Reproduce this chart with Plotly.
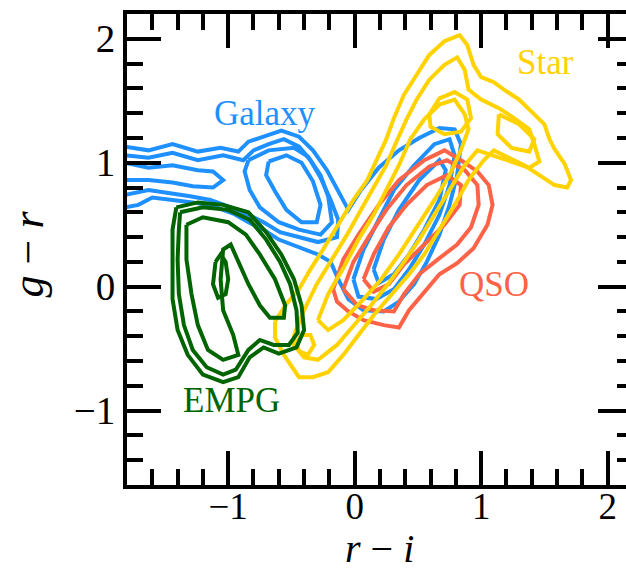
import plotly.graph_objects as go

# ---------------- data (r-i, g-r) contour vertices ----------------
# EMPG contours
EMPG_1_X = [-1.41, -1.24, -1.04, -0.84, -0.70, -0.58, -0.48, -0.42, -0.40, -0.46, -0.60, -0.72, -0.83, -0.92, -1.04, -1.20, -1.32, -1.40, -1.44, -1.44, -1.44, -1.41]
EMPG_1_Y = [0.64, 0.68, 0.66, 0.60, 0.44, 0.26, 0.06, -0.15, -0.35, -0.49, -0.54, -0.49, -0.57, -0.73, -0.77, -0.71, -0.55, -0.35, -0.10, 0.22, 0.46, 0.64]
EMPG_2_X = [-1.38, -1.20, -1.00, -0.83, -0.70, -0.59, -0.51, -0.46, -0.45, -0.52, -0.64, -0.75, -0.84, -0.94, -1.04, -1.17, -1.28, -1.35, -1.39, -1.40, -1.39, -1.38]
EMPG_2_Y = [0.60, 0.64, 0.62, 0.54, 0.38, 0.20, 0.02, -0.19, -0.37, -0.47, -0.47, -0.43, -0.51, -0.67, -0.71, -0.65, -0.51, -0.31, -0.06, 0.22, 0.46, 0.60]
EMPG_3_X = [-1.33, -1.20, -1.00, -0.86, -0.75, -0.63, -0.55, -0.56, -0.67, -0.75, -0.84, -0.92, -0.98, -1.04, -1.06, -1.04, -0.96, -0.92, -1.04, -1.16, -1.24, -1.29, -1.33, -1.33]
EMPG_3_Y = [0.50, 0.56, 0.52, 0.42, 0.26, 0.06, -0.15, -0.25, -0.25, -0.15, 0.02, 0.20, 0.34, 0.30, 0.06, -0.19, -0.39, -0.55, -0.59, -0.51, -0.31, -0.06, 0.22, 0.50]
EMPG_4_X = [-1.10, -1.06, -1.02, -1.00, -1.02, -1.08, -1.12, -1.10]
EMPG_4_Y = [0.20, 0.26, 0.20, 0.06, -0.06, -0.09, 0.02, 0.20]

# Galaxy contours
GAL_1_X = [-1.95, -1.82, -1.63, -1.44, -1.24, -1.06, -0.92, -0.84, -0.72, -0.58, -0.44, -0.33, -0.22, -0.13, -0.05, 0.05, 0.19, 0.35, 0.51, 0.67, 0.79, 0.84, 0.81, 0.75, 0.67, 0.57, 0.47, 0.35, 0.23, 0.07, -0.05, -0.13, -0.19, -0.29, -0.44, -0.60, -0.72, -0.84, -0.96, -1.12, -1.28, -1.44, -1.60, -1.71, -1.82, -1.95]
GAL_1_Y = [1.13, 1.13, 1.10, 1.15, 1.09, 1.12, 1.09, 1.17, 1.21, 1.26, 1.21, 1.10, 0.94, 0.77, 0.62, 0.78, 0.96, 1.10, 1.20, 1.28, 1.27, 1.15, 0.90, 0.66, 0.42, 0.20, 0.02, -0.12, -0.20, -0.19, -0.10, 0.06, 0.20, 0.26, 0.32, 0.38, 0.46, 0.52, 0.59, 0.65, 0.68, 0.70, 0.72, 0.66, 0.64, 0.64]
GAL_2_X = [-1.95, -1.82, -1.63, -1.44, -1.24, -1.04, -0.88, -0.80, -0.68, -0.56, -0.44, -0.35, -0.27, -0.19, -0.13, -0.14, -0.29, -0.44, -0.59, -0.72, -0.84, -0.98, -1.14, -1.30, -1.48, -1.63, -1.82, -1.95]
GAL_2_Y = [1.06, 1.06, 1.04, 1.08, 1.02, 1.06, 1.02, 1.10, 1.15, 1.19, 1.13, 1.02, 0.88, 0.70, 0.54, 0.40, 0.36, 0.40, 0.44, 0.52, 0.58, 0.64, 0.70, 0.73, 0.76, 0.78, 0.74, 0.74]
GAL_3_X = [-1.95, -1.82, -1.63, -1.44, -1.24, -1.12, -1.04, -1.12, -1.28, -1.44, -1.63, -1.82, -1.95]
GAL_3_Y = [0.98, 1.00, 0.96, 0.98, 0.94, 0.93, 0.86, 0.80, 0.81, 0.84, 0.86, 0.86, 0.86]
GAL_4_X = [-0.84, -0.68, -0.48, -0.37, -0.27, -0.21, -0.18, -0.27, -0.44, -0.60, -0.75, -0.83, -0.87, -0.84]
GAL_4_Y = [1.02, 1.10, 1.12, 1.05, 0.90, 0.73, 0.52, 0.42, 0.46, 0.52, 0.64, 0.78, 0.93, 1.02]
GAL_5_X = [-0.68, -0.54, -0.42, -0.33, -0.27, -0.30, -0.42, -0.54, -0.63, -0.70, -0.68]
GAL_5_Y = [1.01, 1.06, 1.00, 0.85, 0.66, 0.52, 0.52, 0.62, 0.77, 0.90, 1.01]
GAL_6_X = [-0.01, 0.07, 0.19, 0.31, 0.47, 0.63, 0.75, 0.79, 0.75, 0.67, 0.55, 0.43, 0.31, 0.17, 0.03, -0.01]
GAL_6_Y = [0.06, 0.30, 0.54, 0.78, 0.98, 1.15, 1.19, 1.06, 0.82, 0.58, 0.34, 0.14, -0.02, -0.10, -0.08, 0.06]
GAL_7_X = [0.15, 0.23, 0.35, 0.51, 0.67, 0.72, 0.67, 0.55, 0.43, 0.31, 0.19, 0.15]
GAL_7_Y = [0.14, 0.38, 0.62, 0.86, 1.02, 0.94, 0.70, 0.46, 0.26, 0.10, 0.03, 0.14]

# QSO contours
QSO_1_X = [-0.17, -0.09, 0.03, 0.19, 0.35, 0.55, 0.71, 0.84, 0.97, 1.06, 1.09, 1.05, 0.94, 0.81, 0.67, 0.55, 0.43, 0.35, 0.23, 0.07, -0.05, -0.14, -0.17]
QSO_1_Y = [-0.02, 0.22, 0.42, 0.66, 0.86, 1.02, 1.10, 1.02, 0.93, 0.82, 0.66, 0.50, 0.31, 0.19, 0.10, -0.04, -0.19, -0.33, -0.31, -0.27, -0.20, -0.12, -0.02]
QSO_2_X = [-0.09, -0.01, 0.11, 0.25, 0.41, 0.59, 0.73, 0.87, 0.97, 0.98, 0.92, 0.81, 0.67, 0.51, 0.39, 0.31, 0.15, 0.02, -0.09]
QSO_2_Y = [-0.02, 0.20, 0.40, 0.62, 0.82, 0.97, 1.02, 0.94, 0.82, 0.66, 0.48, 0.34, 0.23, 0.10, -0.06, -0.20, -0.19, -0.15, -0.02]
QSO_3_X = [0.07, 0.15, 0.27, 0.41, 0.57, 0.73, 0.84, 0.83, 0.71, 0.55, 0.39, 0.27, 0.15, 0.07]
QSO_3_Y = [0.06, 0.26, 0.48, 0.66, 0.82, 0.90, 0.82, 0.66, 0.50, 0.34, 0.18, 0.02, -0.04, 0.06]

# Star contours
STAR_1_X = [-0.63, -0.54, -0.44, -0.35, -0.25, -0.13, -0.01, 0.10, 0.17, 0.25, 0.31, 0.39, 0.49, 0.59, 0.71, 0.83, 0.89, 0.94, 1.00, 1.10, 1.18, 1.30, 1.42, 1.50, 1.54, 1.58, 1.66, 1.71, 1.68, 1.58, 1.46, 1.34, 1.22, 1.10, 1.02, 0.90, 0.79, 0.67, 0.55, 0.43, 0.29, 0.15, 0.03, -0.09, -0.21, -0.33, -0.44, -0.56, -0.63, -0.63]
STAR_1_Y = [-0.28, -0.14, -0.02, 0.14, 0.30, 0.50, 0.70, 0.86, 1.02, 1.19, 1.36, 1.55, 1.71, 1.87, 1.98, 2.03, 1.95, 1.79, 1.69, 1.65, 1.59, 1.51, 1.39, 1.31, 1.19, 1.11, 0.99, 0.86, 0.80, 0.82, 0.90, 0.98, 1.04, 1.10, 1.02, 0.86, 0.66, 0.46, 0.26, 0.10, -0.06, -0.23, -0.39, -0.55, -0.69, -0.73, -0.73, -0.55, -0.41, -0.28]
STAR_2_X = [-0.48, -0.40, -0.30, -0.18, -0.06, 0.05, 0.15, 0.25, 0.33, 0.41, 0.49, 0.59, 0.71, 0.81, 0.87, 0.90, 1.00, 1.14, 1.26, 1.38, 1.42, 1.46, 1.38, 1.24, 1.10, 0.97, 0.87, 0.75, 0.63, 0.51, 0.39, 0.27, 0.13, -0.01, -0.14, -0.29, -0.40, -0.48, -0.48]
STAR_2_Y = [-0.39, -0.19, 0.02, 0.22, 0.42, 0.62, 0.80, 0.98, 1.17, 1.35, 1.51, 1.67, 1.79, 1.85, 1.75, 1.59, 1.51, 1.44, 1.36, 1.27, 1.15, 1.01, 0.96, 1.01, 1.06, 1.10, 0.98, 0.78, 0.58, 0.38, 0.20, 0.03, -0.15, -0.31, -0.47, -0.59, -0.57, -0.47, -0.39]
STAR_3_X = [-0.29, -0.21, -0.09, 0.03, 0.15, 0.25, 0.35, 0.44, 0.55, 0.67, 0.79, 0.87, 0.90, 0.84, 0.75, 0.63, 0.49, 0.35, 0.21, 0.07, -0.09, -0.21, -0.29]
STAR_3_Y = [-0.27, -0.06, 0.15, 0.38, 0.58, 0.78, 0.98, 1.19, 1.35, 1.47, 1.51, 1.39, 1.27, 1.10, 0.90, 0.70, 0.48, 0.26, 0.06, -0.10, -0.27, -0.35, -0.27]
STAR_4_X = [0.59, 0.67, 0.79, 0.89, 0.92, 0.84, 0.71, 0.60, 0.59]
STAR_4_Y = [1.39, 1.52, 1.57, 1.51, 1.36, 1.25, 1.23, 1.29, 1.39]
STAR_5_X = [1.14, 1.30, 1.42, 1.38, 1.24, 1.13, 1.14]
STAR_5_Y = [1.39, 1.31, 1.19, 1.09, 1.12, 1.23, 1.39]
STAR_6_X = [-0.46, -0.42, -0.35, -0.32, -0.37, -0.44, -0.46]
STAR_6_Y = [-0.45, -0.39, -0.39, -0.47, -0.55, -0.52, -0.45]

# class labels and their positions
LABELS = ["Galaxy", "Star", "QSO", "EMPG"]
LABEL_X = [-0.71, 1.51, 1.10, -0.97]
LABEL_Y = [1.40, 1.81, 0.02, -0.92]

# axis ranges and titles
X_RANGE = [-1.8, 2.145]
Y_RANGE = [-1.6, 2.2]
X_TITLE = "<i>r</i> − <i>i</i>"
Y_TITLE = "<i>g</i> − <i>r</i>"

COLORS = {"Galaxy": "rgb(30,144,255)", "Star": "rgb(255,210,0)",
          "QSO": "rgb(255,99,71)", "EMPG": "rgb(0,100,0)"}

CLASSES = [
    ("Galaxy", [(GAL_1_X, GAL_1_Y), (GAL_2_X, GAL_2_Y), (GAL_3_X, GAL_3_Y), (GAL_4_X, GAL_4_Y),
                (GAL_5_X, GAL_5_Y), (GAL_6_X, GAL_6_Y), (GAL_7_X, GAL_7_Y)]),
    ("QSO", [(QSO_1_X, QSO_1_Y), (QSO_2_X, QSO_2_Y), (QSO_3_X, QSO_3_Y)]),
    ("Star", [(STAR_1_X, STAR_1_Y), (STAR_2_X, STAR_2_Y), (STAR_3_X, STAR_3_Y), (STAR_4_X, STAR_4_Y),
              (STAR_5_X, STAR_5_Y), (STAR_6_X, STAR_6_Y)]),
    ("EMPG", [(EMPG_1_X, EMPG_1_Y), (EMPG_2_X, EMPG_2_Y), (EMPG_3_X, EMPG_3_Y), (EMPG_4_X, EMPG_4_Y)]),
]

SERIF = "Liberation Serif"

fig = go.Figure()
for name, contours in CLASSES:
    for cx, cy in contours:
        fig.add_trace(go.Scatter(x=cx, y=cy, mode="lines", showlegend=False, hoverinfo="skip",
                                 line=dict(color=COLORS[name], width=4)))

for lab, lx, ly in zip(LABELS, LABEL_X, LABEL_Y):
    fig.add_annotation(x=lx, y=ly, text=lab, showarrow=False, xanchor="center", yanchor="middle",
                       font=dict(family=SERIF, size=35, color=COLORS[lab]))

# axis titles
fig.add_annotation(xref="paper", yref="paper", x=0.507, y=-0.187, text=X_TITLE, showarrow=False,
                   xanchor="center", yanchor="bottom", font=dict(family=SERIF, size=40, color="black"))
fig.add_annotation(xref="paper", yref="paper", x=-0.198, y=0.49, text=Y_TITLE, showarrow=False, textangle=-90,
                   xanchor="center", yanchor="middle", font=dict(family=SERIF, size=44, color="black"))

tick_common = dict(tickmode="linear", tick0=0, dtick=1, ticks="inside", tickwidth=4, tickcolor="black",
                   showgrid=False, zeroline=False, automargin=False)

fig.update_layout(
    width=626, height=573,
    margin=dict(l=127, r=0, t=14, b=88),
    paper_bgcolor="white", plot_bgcolor="white",
    xaxis=dict(range=X_RANGE, ticklen=34, showline=True, linewidth=4, linecolor="black", mirror="ticks",
               tickfont=dict(family=SERIF, size=37, color="black"), ticklabelstandoff=-14,
               minor=dict(tick0=0, dtick=0.2, ticks="inside", ticklen=16, tickwidth=4, tickcolor="black", showgrid=False),
               **tick_common),
    yaxis=dict(range=Y_RANGE, ticklen=34, showline=True, linewidth=4, linecolor="black", mirror=False,
               tickfont=dict(family=SERIF, size=39, color="black"),
               minor=dict(tick0=0, dtick=0.2, ticks="inside", ticklen=16, tickwidth=4, tickcolor="black", showgrid=False),
               **tick_common),
    # right-hand ticks (the right frame edge lies just outside the picture)
    yaxis2=dict(range=Y_RANGE, overlaying="y", side="right", anchor="x", ticklen=28, showline=False,
                showticklabels=False,
                minor=dict(tick0=0, dtick=0.2, ticks="inside", ticklen=9, tickwidth=4, tickcolor="black", showgrid=False),
                **tick_common),
)
fig.add_trace(go.Scatter(x=[X_RANGE[0]], y=[Y_RANGE[0]], yaxis="y2", mode="markers", marker=dict(opacity=0),
                         showlegend=False, hoverinfo="skip"))

fig.write_html("out.html")
